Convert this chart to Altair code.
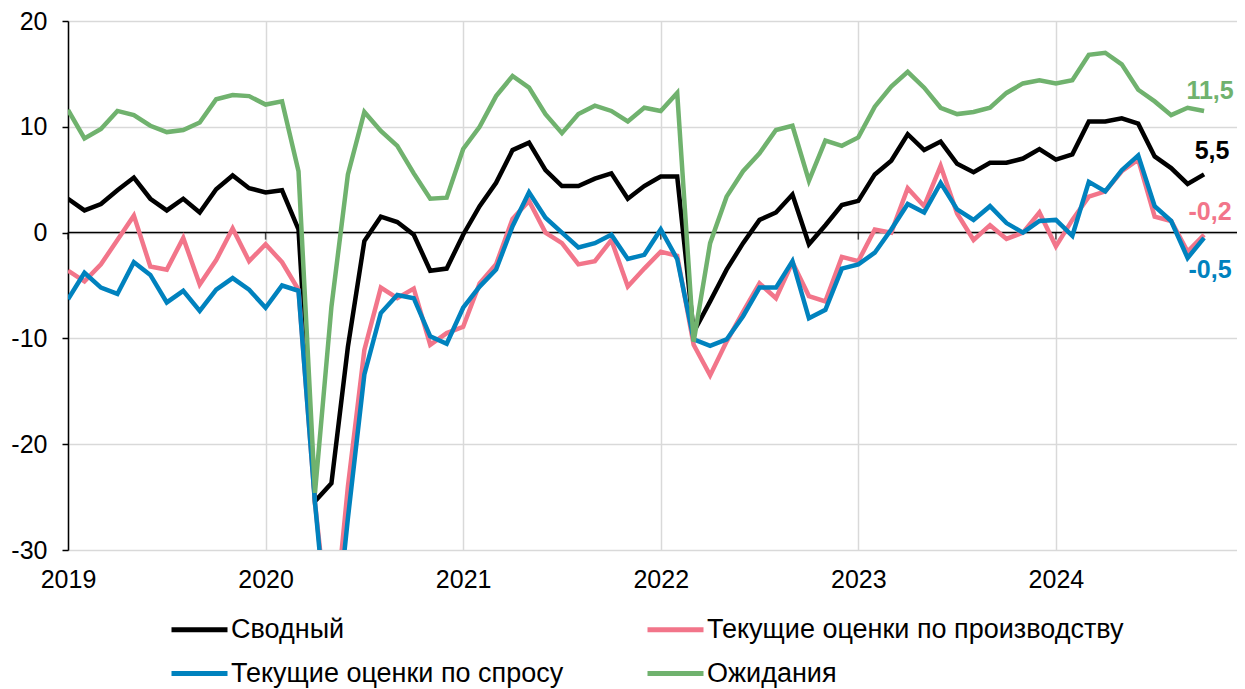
import altair as alt
import pandas as pd

years = [2019, 2020, 2021, 2022, 2023, 2024]
series_names = ["Сводный", "Текущие оценки по производству", "Текущие оценки по спросу", "Ожидания"]
colors = ["#000000", "#F2758A", "#0082BE", "#70B26E"]

composite = [
    3.2, 2.1, 2.7, 4.0, 5.2, 3.2, 2.1, 3.2, 1.9, 4.1, 5.4, 4.2,
    3.8, 4.0, 0.3, -25.4, -23.7, -10.8, -0.8, 1.5, 1.0, -0.2, -3.6, -3.4,
    -0.2, 2.5, 4.7, 7.8, 8.5, 5.9, 4.4, 4.4, 5.1, 5.6, 3.2, 4.4,
    5.3, 5.3, -9.4, -6.5, -3.5, -1.0, 1.2, 1.9, 3.6, -1.1, 0.7, 2.6,
    3.0, 5.5, 6.8, 9.3, 7.8, 8.6, 6.5, 5.7, 6.6, 6.6, 7.0, 7.9,
    6.9, 7.4, 10.5, 10.5, 10.8, 10.3, 7.2, 6.1, 4.6, 5.5,
]
production = [
    -3.6, -4.6, -3.0, -0.7, 1.6, -3.2, -3.5, -0.5, -4.9, -2.6, 0.4, -2.7,
    -1.1, -2.8, -5.4, -25.5, -40.0, -24.0, -11.1, -5.2, -6.2, -5.3, -10.6, -9.5,
    -8.9, -4.8, -3.0, 1.3, 3.0, 0.0, -1.0, -3.0, -2.7, -0.7, -5.1, -3.4,
    -1.8, -2.2, -10.6, -13.5, -10.3, -7.5, -4.8, -6.2, -2.8, -6.0, -6.5, -2.3,
    -2.7, 0.3, 0.0, 4.2, 2.5, 6.3, 1.8, -0.7, 0.7, -0.6, 0.0, 1.9,
    -1.3, 1.2, 3.4, 3.9, 5.8, 6.9, 1.5, 1.1, -1.8, -0.2,
]
demand = [
    -6.3, -3.8, -5.2, -5.8, -2.8, -4.0, -6.6, -5.5, -7.4, -5.4, -4.3, -5.4,
    -7.1, -5.0, -5.5, -25.5, -42.0, -27.0, -13.4, -7.6, -5.9, -6.2, -9.8, -10.5,
    -7.1, -5.1, -3.5, 0.6, 3.8, 1.4, 0.0, -1.4, -1.0, -0.2, -2.5, -2.1,
    0.3, -2.5, -10.1, -10.7, -10.1, -7.9, -5.2, -5.2, -2.7, -8.1, -7.3, -3.4,
    -3.0, -1.9, 0.3, 2.7, 1.9, 4.7, 2.2, 1.2, 2.5, 0.9, 0.0, 1.1,
    1.2, -0.3, 4.8, 3.9, 5.9, 7.3, 2.5, 1.1, -2.4, -0.5,
]
expectations = [
    11.6, 8.9, 9.8, 11.5, 11.1, 10.1, 9.5, 9.7, 10.4, 12.6, 13.0, 12.9,
    12.1, 12.4, 5.8, -24.6, -7.0, 5.5, 11.4, 9.6, 8.2, 5.6, 3.2, 3.3,
    7.9, 10.0, 12.9, 14.8, 13.7, 11.2, 9.4, 11.2, 12.0, 11.5, 10.5, 11.8,
    11.5, 13.2, -10.3, -1.0, 3.4, 5.8, 7.5, 9.7, 10.1, 4.9, 8.7, 8.2,
    9.0, 11.9, 13.8, 15.2, 13.7, 11.8, 11.2, 11.4, 11.8, 13.2, 14.1, 14.4,
    14.1, 14.4, 16.8, 17.0, 15.9, 13.5, 12.4, 11.1, 11.8, 11.5,
]

all_series = [composite, production, demand, expectations]
rows = []
for name, vals in zip(series_names, all_series):
    for i, v in enumerate(vals):
        rows.append({"t": years[0] + i / 12.0, "value": v, "series": name, "order": i})
df = pd.DataFrame(rows)
last_t = df["t"].max()

FONT = "Liberation Sans"
x_scale = alt.Scale(domain=[years[0], years[0] + 71 / 12.0], nice=False, zero=False)
y_scale = alt.Scale(domain=[-30, 20], nice=False)
color_scale = alt.Scale(domain=series_names, range=colors)

base = alt.Chart(df)

lines = base.mark_line(strokeWidth=4.5, clip=True).encode(
    x=alt.X("t:Q", scale=x_scale,
            axis=alt.Axis(values=years, format="d", title=None, grid=True,
                          gridColor="#D9D9D9", gridWidth=1.5, domain=False,
                          ticks=False, labelPadding=17, labelFontSize=25,
                          labelFlush=False, labelColor="black", labelFont=FONT)),
    y=alt.Y("value:Q", scale=y_scale,
            axis=alt.Axis(values=[-30, -20, -10, 0, 10, 20], labelExpr="datum.value + ''",
                          title=None, grid=True, gridColor="#D9D9D9", gridWidth=1.5,
                          domainColor="black", domainWidth=1.5, tickColor="black",
                          tickSize=6, tickWidth=1.5, labelPadding=15, labelFontSize=25,
                          labelFlush=False, labelColor="black", labelFont=FONT)),
    color=alt.Color("series:N", scale=color_scale, sort=series_names,
                    legend=alt.Legend(orient="none", legendX=101, legendY=578, columns=2,
                                      direction="horizontal",
                                      title=None, symbolType="stroke", symbolSize=3136,
                                      symbolStrokeWidth=5, labelFontSize=27, labelFont=FONT,
                                      labelColor="black", labelOffset=1, columnPadding=73,
                                      rowPadding=-11, labelLimit=700)),
    order=alt.Order("order:Q"),
    detail="series:N",
)

zero = alt.Chart(pd.DataFrame({"z": [0]})).mark_rule(color="black", strokeWidth=1.5).encode(
    y=alt.Y("z:Q", scale=y_scale)
)

year_ticks = alt.Chart(pd.DataFrame({"t": years, "z": [0] * len(years)})).mark_tick(
    orient="vertical", size=7, thickness=1.5, yOffset=3.5, color="black"
).encode(x=alt.X("t:Q", scale=x_scale), y=alt.Y("z:Q", scale=y_scale))

label_offsets = {
    "Сводный": (8, -23),
    "Текущие оценки по производству": (6, -23),
    "Текущие оценки по спросу": (6, 32),
    "Ожидания": (6, -20),
}
labels = []
for name, col in zip(series_names, colors):
    dx, dy = label_offsets[name]
    labels.append(
        base.transform_filter((alt.datum.series == name) & (alt.datum.t >= last_t - 1e-6))
        .transform_calculate(lab="replace(replace(format(datum.value, '.1f'), '.', ','), '\u2212', '-')")
        .mark_text(font=FONT, fontSize=25, fontWeight="bold", color=col, dx=dx, dy=dy, align="center")
        .encode(x=alt.X("t:Q", scale=x_scale), y=alt.Y("value:Q", scale=y_scale), text="lab:N")
    )

chart = alt.layer(zero, year_ticks, lines, *labels).properties(
    width=1169, height=529,
    autosize=alt.AutoSizeParams(type="none"),
    padding={"left": 60, "top": 13, "right": 0, "bottom": 146},
).configure_view(stroke="#D9D9D9", strokeWidth=1.5).configure(font=FONT)

chart.save("out.html", embed_options={"renderer": "svg", "actions": False})
